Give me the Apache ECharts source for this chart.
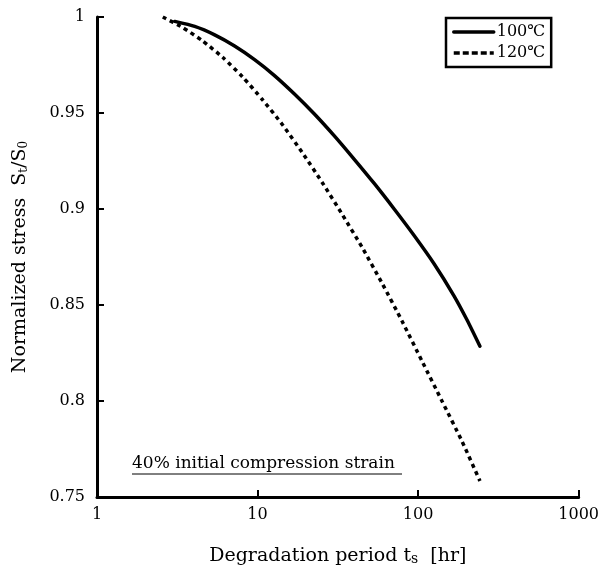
<!DOCTYPE html>
<html>
<head>
<meta charset="utf-8">
<script src="https://cdn.jsdelivr.net/npm/echarts@6/dist/echarts.min.js"></script>
<style>html,body{margin:0;padding:0;background:#fff;}#c{width:602px;height:573px;}</style>
</head>
<body>
<div id="c"></div>
<script>
var seriesNames = ['100\u2103', '120\u2103'];
var t100 = [3.051, 4.061, 5.406, 7.196, 9.580, 12.75, 16.98, 22.60, 30.08, 40.04, 53.30, 70.95, 94.45, 125.7, 167.3, 201.5, 242.8];
var s100 = [0.9977, 0.9951, 0.9907, 0.9849, 0.9778, 0.9695, 0.9599, 0.9495, 0.9381, 0.9259, 0.9133, 0.9000, 0.8862, 0.8715, 0.8548, 0.8423, 0.8285];
var t120 = [2.570, 3.42, 4.555, 6.062, 8.069, 10.74, 14.30, 19.03, 25.33, 33.73, 44.89, 59.76, 79.55, 105.9, 141.0, 187.6, 242.8];
var s120 = [1.0, 0.9945, 0.9875, 0.9790, 0.9688, 0.9569, 0.9439, 0.9293, 0.9137, 0.8971, 0.8799, 0.8612, 0.8415, 0.8207, 0.7999, 0.7791, 0.7583];
var xRange = [1, 1000];
var yRange = [0.75, 1];
var yStep = 0.05;
var note = '40% initial compression strain';

function pairs(xs, ys) { return xs.map(function (x, i) { return [x, ys[i]]; }); }

var FONT = "'DejaVu Serif', 'Liberation Serif', serif";
var chart = echarts.init(document.getElementById('c'));
chart.setOption({
  backgroundColor: '#fff',
  animation: false,
  textStyle: { fontFamily: FONT, color: '#000' },
  grid: { left: 97, right: 22, top: 17, bottom: 76 },
  legend: {
    data: [
      { name: seriesNames[0], itemStyle: { opacity: 0 }, lineStyle: { type: 'solid', width: 3.5 } },
      { name: seriesNames[1], itemStyle: { opacity: 0 }, lineStyle: { type: [6, 3], width: 3.5 } }
    ],
    orient: 'vertical',
    left: 446, top: 18,
    borderColor: '#000', borderWidth: 2.5, borderRadius: 0,
    padding: [6, 6, 6, 6],
    itemWidth: 40, itemHeight: 20, itemGap: 5,
    textStyle: { fontFamily: FONT, fontSize: 16, color: '#000', padding: [0, 0, 0, -2] }
  },
  xAxis: {
    type: 'log', logBase: 10, min: xRange[0], max: xRange[1],
    name: 'Degradation period t{sub|s}  [hr]',
    nameLocation: 'middle', nameGap: 50,
    nameTextStyle: { fontFamily: FONT, fontSize: 19, color: '#000',
      rich: { sub: { fontFamily: FONT, fontSize: 14, verticalAlign: 'bottom', padding: [5, 0, 0, 0] } } },
    axisLine: { lineStyle: { color: '#000', width: 3 } },
    axisTick: { inside: true, length: 7, lineStyle: { color: '#000', width: 2 } },
    axisLabel: { fontFamily: FONT, fontSize: 16, color: '#000', margin: 10,
      formatter: function (v) { return String(Math.round(v)); } },
    splitLine: { show: false }
  },
  yAxis: {
    type: 'value', min: yRange[0], max: yRange[1], interval: yStep,
    name: 'Normalized stress  S{sub|t}/S{sub|0}',
    nameLocation: 'middle', nameGap: 67,
    nameTextStyle: { fontFamily: FONT, fontSize: 19, color: '#000',
      rich: { sub: { fontFamily: FONT, fontSize: 12, verticalAlign: 'bottom', padding: [6, 0, 0, 0] } } },
    axisLine: { show: true, lineStyle: { color: '#000', width: 3 } },
    axisTick: { show: true, inside: true, length: 7, lineStyle: { color: '#000', width: 2 } },
    axisLabel: { fontFamily: FONT, fontSize: 16, color: '#000', margin: 12 },
    splitLine: { show: false }
  },
  series: [
    { name: seriesNames[0], type: 'line', smooth: 0.2, symbol: 'none', showSymbol: false,
      data: pairs(t100, s100),
      lineStyle: { color: '#000', width: 3.5, type: 'solid', cap: 'round', join: 'round' }, itemStyle: { color: '#000' } },
    { name: seriesNames[1], type: 'line', smooth: 0.2, symbol: 'none', showSymbol: false,
      data: pairs(t120, s120),
      lineStyle: { color: '#000', width: 3.5, type: [4, 4], join: 'round' }, itemStyle: { color: '#000' } }
  ],
  graphic: [
    { type: 'text', left: 132, top: 455,
      style: { text: note, fontFamily: FONT, fontSize: 17, fill: '#000' } },
    { type: 'line', shape: { x1: 132, y1: 474, x2: 402, y2: 474 },
      style: { stroke: '#000', lineWidth: 1 } }
  ]
});
</script>
</body>
</html>
